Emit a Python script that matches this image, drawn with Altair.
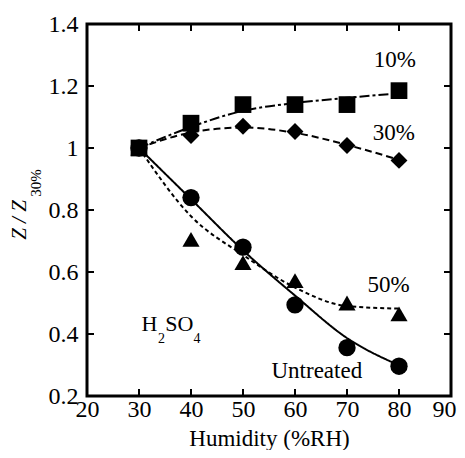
import altair as alt
import pandas as pd

# ---- data ----
humidity = [30, 40, 50, 60, 70, 80]
series_names = ["10%", "30%", "50%", "Untreated"]
z_10 = [1.00, 1.08, 1.14, 1.14, 1.14, 1.185]
z_30 = [1.00, 1.04, 1.07, 1.053, 1.008, 0.96]
z_50 = [1.00, 0.705, 0.63, 0.572, 0.50, 0.465]
z_untreated = [1.00, 0.84, 0.68, 0.494, 0.356, 0.296]

# fitted curves
fit_10 = [1.00, 1.068, 1.12, 1.145, 1.162, 1.176]
fit_30 = [1.00, 1.05, 1.066, 1.049, 1.01, 0.962]
fit_50 = [1.00, 0.78, 0.655, 0.55, 0.49, 0.482]
fit_untreated = [1.00, 0.835, 0.67, 0.524, 0.387, 0.299]

x_ticks = [20, 30, 40, 50, 60, 70, 80, 90]
y_ticks = [0.2, 0.4, 0.6, 0.8, 1.0, 1.2, 1.4]
x_inner_ticks = [30, 40, 50, 60, 70, 80]
y_inner_ticks = [0.4, 0.6, 0.8, 1.0, 1.2]

label_text = ["10%", "30%", "50%", "Untreated"]
label_x = [79.2, 79.0, 78.0, 64.2]
label_y = [1.284, 1.048, 0.558, 0.281]

chem_text = ["H", "2", "SO", "4"]
chem_x = [32.0, 34.35, 37.75, 41.15]
chem_y = [0.41, 0.371, 0.41, 0.371]
chem_size = [22, 14, 22, 14]

FONT = "Liberation Serif"

pts_rows, fit_rows = [], []
for name, vals, fits in zip(series_names, [z_10, z_30, z_50, z_untreated],
                            [fit_10, fit_30, fit_50, fit_untreated]):
    for h, v, f in zip(humidity, vals, fits):
        pts_rows.append({"h": h, "z": v, "s": name})
        fit_rows.append({"h": h, "z": f, "s": name})
pts = pd.DataFrame(pts_rows)
fits = pd.DataFrame(fit_rows)

xs = alt.Scale(domain=[20, 90], nice=False, zero=False)
ys = alt.Scale(domain=[0.2, 1.4], nice=False, zero=False)

xaxis = alt.Axis(values=x_ticks, title="Humidity (%RH)", ticks=False, domain=False,
                 grid=False, labelFont=FONT, labelFontSize=24, labelColor="black",
                 labelPadding=1, labelFlush=False, labelOverlap=False,
                 labelOffset=alt.condition("datum.value == 90", alt.value(-7), alt.value(0)),
                 titleFont=FONT, titleFontSize=23, titleFontWeight="normal",
                 titleColor="black", titlePadding=6)
yaxis = alt.Axis(values=y_ticks, title=None, ticks=False, domain=False, grid=False,
                 labelFont=FONT, labelFontSize=24, labelColor="black", labelPadding=9,
                 labelFlush=False, labelOverlap=False, format="~g")

dash_scale = alt.Scale(domain=series_names,
                       range=[[10, 3, 3, 3], [7, 4], [4, 3], [1, 0]])
shape_scale = alt.Scale(domain=series_names,
                        range=["square", "diamond", "triangle-up", "circle"])
size_scale = alt.Scale(domain=series_names, range=[280, 300, 320, 250])

lines = alt.Chart(fits).mark_line(color="black", strokeWidth=2,
                                  interpolate="monotone").encode(
    x=alt.X("h:Q", scale=xs, axis=xaxis),
    y=alt.Y("z:Q", scale=ys, axis=yaxis),
    strokeDash=alt.StrokeDash("s:N", scale=dash_scale, legend=None),
    detail="s:N",
)

points = alt.Chart(pts).mark_point(filled=True, color="black", opacity=1).encode(
    x=alt.X("h:Q", scale=xs),
    y=alt.Y("z:Q", scale=ys),
    shape=alt.Shape("s:N", scale=shape_scale, legend=None),
    size=alt.Size("s:N", scale=size_scale, legend=None),
)

# inward ticks
tx = pd.DataFrame({"v": x_inner_ticks})
ty = pd.DataFrame({"v": y_inner_ticks})
tick_bottom = alt.Chart(tx).mark_rule(color="black", strokeWidth=2).encode(
    x=alt.X("v:Q", scale=xs), y=alt.value(372), y2=alt.value(365))
tick_top = alt.Chart(tx).mark_rule(color="black", strokeWidth=2).encode(
    x=alt.X("v:Q", scale=xs), y=alt.value(0), y2=alt.value(7))
tick_left = alt.Chart(ty).mark_rule(color="black", strokeWidth=2).encode(
    y=alt.Y("v:Q", scale=ys), x=alt.value(0), x2=alt.value(7))
tick_right = alt.Chart(ty).mark_rule(color="black", strokeWidth=2).encode(
    y=alt.Y("v:Q", scale=ys), x=alt.value(364), x2=alt.value(357))

labels = alt.Chart(pd.DataFrame({"t": label_text, "x": label_x, "y": label_y})).mark_text(
    font=FONT, fontSize=23, color="black", align="center", baseline="middle").encode(
    x=alt.X("x:Q", scale=xs), y=alt.Y("y:Q", scale=ys), text="t:N")

chem = alt.Chart(pd.DataFrame({"t": chem_text, "x": chem_x, "y": chem_y,
                               "fs": chem_size})).mark_text(
    font=FONT, color="black", align="center", baseline="alphabetic").encode(
    x=alt.X("x:Q", scale=xs), y=alt.Y("y:Q", scale=ys), text="t:N",
    size=alt.Size("fs:Q", scale=None, legend=None))

ytitle_main = alt.Chart(pd.DataFrame({"t": ["Z / Z"]})).mark_text(
    font=FONT, fontSize=21, fontStyle="italic", color="black", angle=270,
    align="center", baseline="middle").encode(
    text="t:N", x=alt.value(-67), y=alt.value(196))
ytitle_sub = alt.Chart(pd.DataFrame({"t": ["30%"]})).mark_text(
    font=FONT, fontSize=15, color="black", angle=270,
    align="center", baseline="middle").encode(
    text="t:N", x=alt.value(-51), y=alt.value(159))

chart = alt.layer(
    lines, points, tick_bottom, tick_top, tick_left, tick_right,
    labels, chem, ytitle_main, ytitle_sub
).properties(
    width=364, height=372,
    background="white",
    autosize=alt.AutoSizeParams(type="none"),
    padding={"left": 79, "top": 16, "right": 6, "bottom": 54},
).configure_view(
    stroke="black", strokeWidth=3
)

chart.save("out.html", embed_options={"renderer": "svg", "actions": False})
